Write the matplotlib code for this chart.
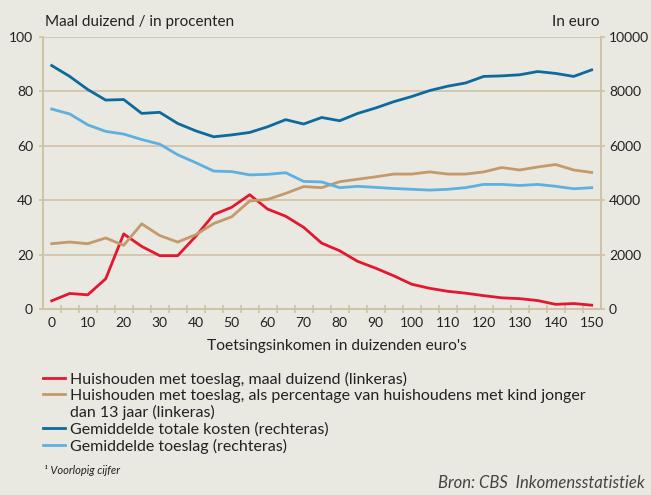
import matplotlib
matplotlib.use("Agg")
import matplotlib.pyplot as plt
import numpy as np

# income classes (thousand euro)
inkomen = list(range(0, 155, 5))

# left axis
maal_duizend = [3.0, 5.7, 5.2, 11.1, 27.6, 23.0, 19.6, 19.6, 26.7, 34.7, 37.4, 42.0,
                36.7, 34.1, 30.0, 24.2, 21.4, 17.5, 15.0, 12.2, 9.1, 7.6, 6.5, 5.8,
                4.9, 4.1, 3.8, 3.1, 1.7, 2.0, 1.4]
percentage = [24.0, 24.6, 24.0, 26.1, 23.4, 31.3, 27.0, 24.6, 27.3, 31.4, 33.9, 39.7,
              40.3, 42.5, 45.0, 44.6, 46.8, 47.7, 48.6, 49.6, 49.6, 50.4, 49.6, 49.6,
              50.4, 52.0, 51.1, 52.2, 53.1, 51.1, 50.2]

# right axis (euro)
totale_kosten = [8950, 8550, 8070, 7680, 7700, 7190, 7230, 6820, 6550, 6330, 6400, 6490,
                 6700, 6960, 6800, 7040, 6920, 7190, 7390, 7620, 7810, 8030, 8190, 8310,
                 8550, 8570, 8610, 8730, 8660, 8550, 8790]
toeslag = [7350, 7170, 6770, 6530, 6430, 6230, 6060, 5670, 5380, 5070, 5050, 4930,
           4950, 5010, 4690, 4670, 4460, 4510, 4470, 4430, 4400, 4370, 4400, 4460,
           4580, 4580, 4540, 4580, 4510, 4420, 4460]

labels = [
    "Huishouden met toeslag, maal duizend (linkeras)",
    "Huishouden met toeslag, als percentage van huishoudens met kind jonger",
    "dan 13 jaar (linkeras)",
    "Gemiddelde totale kosten (rechteras)",
    "Gemiddelde toeslag (rechteras)",
]

BG = "#e9e8e1"
GRID = "#cfc2a6"
RED = "#e3172f"
TAN = "#c49a6c"
DARK = "#0d6a9c"
LIGHT = "#5eb0e0"
TXT = "#222222"

plt.rcParams["font.family"] = ["Lato", "DejaVu Sans"]

fig = plt.figure(figsize=(6.51, 4.95), dpi=100, facecolor=BG)
ax = fig.add_axes([0.0656, 0.3758, 0.8571, 0.5495], facecolor=BG)
ax2 = ax.twinx()

ax.set_xlim(-2.5, 152.5)
ax.set_ylim(0, 100)
ax2.set_ylim(0, 10000)

for y in range(20, 101, 20):
    ax.axhline(y, color=GRID, lw=1.2, zorder=0)

l1, = ax.plot(inkomen, maal_duizend, color=RED, lw=2, zorder=3)
l2, = ax.plot(inkomen, percentage, color=TAN, lw=2, zorder=3)
l3, = ax2.plot(inkomen, totale_kosten, color=DARK, lw=2, zorder=3)
l4, = ax2.plot(inkomen, toeslag, color=LIGHT, lw=2, zorder=3)
# empty handle for the wrapped second line of the tan entry
blank = plt.Line2D([], [], color="none")

for a in (ax, ax2):
    for s in a.spines.values():
        s.set_color(GRID)
        s.set_linewidth(1.2)
    a.spines["top"].set_visible(False)

ax.set_xticks(range(0, 151, 10))
ax.tick_params(axis="x", which="major", length=0, pad=6, labelsize=10, labelcolor=TXT)
ax.set_xticks(np.arange(2.5, 150, 5), minor=True)
ax.tick_params(axis="x", which="minor", direction="inout", length=6, color=GRID, width=1.2)

ax.set_yticks(range(0, 101, 20))
ax.tick_params(axis="y", length=3, color=GRID, width=1.2, pad=4, labelsize=10, labelcolor=TXT)
ax2.set_yticks(range(0, 10001, 2000))
ax2.tick_params(axis="y", length=3, color=GRID, width=1.2, pad=3, labelsize=10, labelcolor=TXT)

fig.text(337 / 651, 1 - 346 / 495, "Toetsingsinkomen in duizenden euro's",
         fontsize=11.2, color=TXT, ha="center", va="center")

fig.text(45 / 651, 1 - 22 / 495, "Maal duizend / in procenten", fontsize=11,
         color=TXT, va="center", ha="left")
fig.text(600 / 651, 1 - 22 / 495, "In euro", fontsize=11, color=TXT,
         va="center", ha="right")

fig.legend([l1, l2, blank, l3, l4], labels, loc="upper left",
           bbox_to_anchor=(43 / 651, 1 - 371.5 / 495), frameon=False,
           fontsize=11.5, handlelength=1.4, handletextpad=0.27,
           labelspacing=0.13, borderpad=0, borderaxespad=0,
           labelcolor=TXT)

fig.text(44 / 651, 1 - 470 / 495, "¹ Voorlopig cijfer", fontsize=8,
         style="italic", color=TXT, va="center", ha="left")
fig.text(645 / 651, 1 - 483 / 495, "Bron: CBS  Inkomensstatistiek", fontsize=12,
         style="italic", color="#444444", va="center", ha="right")

fig.savefig("out.png", dpi=100, facecolor=BG)
